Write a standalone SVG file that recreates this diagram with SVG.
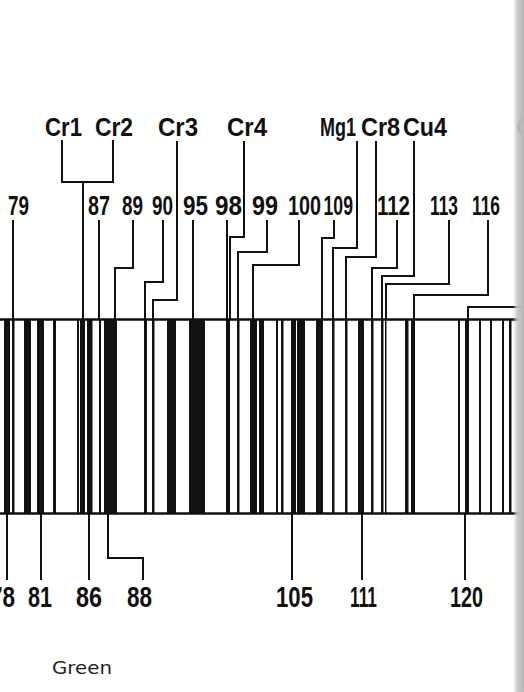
<svg xmlns="http://www.w3.org/2000/svg" width="524" height="692" viewBox="0 0 524 692">
<style>
.lbl{font-family:"Liberation Sans",Arial,sans-serif;font-weight:bold;fill:#111}
.top{font-size:26px}
.mid{font-size:27px}
.bot{font-size:29px}
.cap{font-family:"DejaVu Sans","Liberation Sans",sans-serif;font-size:17px;fill:#222}
.ld{fill:none;stroke:#111;stroke-width:2}
.bar{fill:#111}
.edge{stroke:#111;stroke-width:2.6}
</style>
<defs>
<linearGradient id="shade" x1="0" y1="0" x2="1" y2="0">
<stop offset="0" stop-color="#d0d0d0" stop-opacity="0"/>
<stop offset="0.35" stop-color="#c8c8c8" stop-opacity="0.9"/>
<stop offset="1" stop-color="#b4b4b4" stop-opacity="1"/>
</linearGradient>
</defs>
<rect x="0" y="0" width="524" height="692" fill="#ffffff"/>

<g id="band">
<line class="edge" x1="0" y1="319.5" x2="520" y2="319.5"/>
<line class="edge" x1="0" y1="513.5" x2="520" y2="513.5"/>
<g class="bar">
<rect x="4" y="319" width="6" height="195"/>
<rect x="12" y="319" width="2.5" height="195"/>
<rect x="24" y="319" width="7" height="195"/>
<rect x="37" y="319" width="7" height="195"/>
<rect x="53" y="319" width="3" height="195"/>
<rect x="77" y="319" width="2" height="195"/>
<rect x="80" y="319" width="5" height="195"/>
<rect x="87" y="319" width="5.5" height="195"/>
<rect x="99" y="319" width="2" height="195"/>
<rect x="104" y="319" width="13" height="195"/>
<rect x="144" y="319" width="3" height="195"/>
<rect x="152" y="319" width="2.5" height="195"/>
<rect x="167" y="319" width="9" height="195"/>
<rect x="189" y="319" width="16" height="195"/>
<rect x="226" y="319" width="4" height="195"/>
<rect x="237" y="319" width="2.5" height="195"/>
<rect x="250" y="319" width="7" height="195"/>
<rect x="259" y="319" width="5" height="195"/>
<rect x="276" y="319" width="2" height="195"/>
<rect x="281" y="319" width="2.5" height="195"/>
<rect x="291" y="319" width="5" height="195"/>
<rect x="297" y="319" width="8" height="195"/>
<rect x="316" y="319" width="7" height="195"/>
<rect x="332" y="319" width="2.5" height="195"/>
<rect x="345" y="319" width="2.5" height="195"/>
<rect x="358" y="319" width="6" height="195"/>
<rect x="371" y="319" width="2.5" height="195"/>
<rect x="381" y="319" width="2.5" height="195"/>
<rect x="385" y="319" width="1.5" height="195"/>
<rect x="405" y="319" width="3.5" height="195"/>
<rect x="411" y="319" width="4" height="195"/>
<rect x="458" y="319" width="2" height="195"/>
<rect x="465" y="319" width="4" height="195"/>
<rect x="479" y="319" width="2" height="195"/>
<rect x="490" y="319" width="2" height="195"/>
<rect x="502" y="319" width="2" height="195"/>
<rect x="509" y="319" width="2.5" height="195"/>
</g>
</g>

<g id="connectors">
<path class="ld" d="M62,140 V182 H113 V140"/>
<path class="ld" d="M83,182 V319" stroke-width="2.6"/>
<path class="ld" d="M13,220 V319"/>
<path class="ld" d="M99,220 V319"/>
<path class="ld" d="M133,220 V268 H115 V319"/>
<path class="ld" d="M163,220 V282 H145 V319"/>
<path class="ld" d="M177,141 V300 H153 V319"/>
<path class="ld" d="M193,220 V319"/>
<path class="ld" d="M227,220 V319" stroke-width="2.6"/>
<path class="ld" d="M244,141 V237 H230 V319"/>
<path class="ld" d="M267,220 V252 H238 V319"/>
<path class="ld" d="M299,220 V265 H253 V319"/>
<path class="ld" d="M334,220 V238 H322 V319"/>
<path class="ld" d="M357,141 V248 H333 V319"/>
<path class="ld" d="M376,141 V257 H346 V319"/>
<path class="ld" d="M397,220 V268 H372 V319"/>
<path class="ld" d="M414,141 V276 H382 V319"/>
<path class="ld" d="M449,220 V284 H386 V319"/>
<path class="ld" d="M488,220 V295 H414 V319"/>
<path class="ld" d="M524,307 H468 V319"/>
<path class="ld" d="M7,514 V580"/>
<path class="ld" d="M41,514 V580"/>
<path class="ld" d="M89,514 V580"/>
<path class="ld" d="M108,514 V558 H143 V580"/>
<path class="ld" d="M292,514 V580"/>
<path class="ld" d="M362,514 V580"/>
<path class="ld" d="M465,514 V580"/>
</g>

<g id="n-Cr1"><text class="lbl top" x="45" y="136" textLength="37" lengthAdjust="spacingAndGlyphs">Cr1</text></g>
<g id="n-Cr2"><text class="lbl top" x="95" y="136" textLength="38" lengthAdjust="spacingAndGlyphs">Cr2</text></g>
<g id="n-Cr3"><text class="lbl top" x="158" y="136" textLength="40" lengthAdjust="spacingAndGlyphs">Cr3</text></g>
<g id="n-Cr4"><text class="lbl top" x="227" y="136" textLength="40" lengthAdjust="spacingAndGlyphs">Cr4</text></g>
<g id="n-Mg1"><text class="lbl top" x="320" y="136" textLength="36" lengthAdjust="spacingAndGlyphs">Mg1</text></g>
<g id="n-Cr8"><text class="lbl top" x="361" y="136" textLength="39" lengthAdjust="spacingAndGlyphs">Cr8</text></g>
<g id="n-Cu4"><text class="lbl top" x="403" y="136" textLength="44" lengthAdjust="spacingAndGlyphs">Cu4</text></g>
<g id="n-C"><text class="lbl top" x="516" y="136">C</text></g>

<g id="n-79"><text class="lbl mid" x="8" y="215" textLength="21" lengthAdjust="spacingAndGlyphs">79</text></g>
<g id="n-87"><text class="lbl mid" x="88" y="215" textLength="22" lengthAdjust="spacingAndGlyphs">87</text></g>
<g id="n-89"><text class="lbl mid" x="122" y="215" textLength="21" lengthAdjust="spacingAndGlyphs">89</text></g>
<g id="n-90"><text class="lbl mid" x="152" y="215" textLength="21" lengthAdjust="spacingAndGlyphs">90</text></g>
<g id="n-95"><text class="lbl mid" x="183" y="215" textLength="25" lengthAdjust="spacingAndGlyphs">95</text></g>
<g id="n-98"><text class="lbl mid" x="215" y="215" textLength="27" lengthAdjust="spacingAndGlyphs">98</text></g>
<g id="n-99"><text class="lbl mid" x="252" y="215" textLength="26" lengthAdjust="spacingAndGlyphs">99</text></g>
<g id="n-100"><text class="lbl mid" x="288" y="215" textLength="33" lengthAdjust="spacingAndGlyphs">100</text></g>
<g id="n-109"><text class="lbl mid" x="323.5" y="215" textLength="29.5" lengthAdjust="spacingAndGlyphs">109</text></g>
<g id="n-112"><text class="lbl mid" x="377" y="215" textLength="33" lengthAdjust="spacingAndGlyphs">112</text></g>
<g id="n-113"><text class="lbl mid" x="430" y="215" textLength="28" lengthAdjust="spacingAndGlyphs">113</text></g>
<g id="n-116"><text class="lbl mid" x="472" y="215" textLength="28" lengthAdjust="spacingAndGlyphs">116</text></g>

<g id="n-78"><text class="lbl bot" x="-10" y="607" textLength="25" lengthAdjust="spacingAndGlyphs">78</text></g>
<g id="n-81"><text class="lbl bot" x="28" y="607" textLength="24" lengthAdjust="spacingAndGlyphs">81</text></g>
<g id="n-86"><text class="lbl bot" x="76" y="607" textLength="26" lengthAdjust="spacingAndGlyphs">86</text></g>
<g id="n-88"><text class="lbl bot" x="127" y="607" textLength="25" lengthAdjust="spacingAndGlyphs">88</text></g>
<g id="n-105"><text class="lbl bot" x="276" y="607" textLength="37" lengthAdjust="spacingAndGlyphs">105</text></g>
<g id="n-111"><text class="lbl bot" x="350" y="607" textLength="27" lengthAdjust="spacingAndGlyphs">111</text></g>
<g id="n-120"><text class="lbl bot" x="450" y="607" textLength="33" lengthAdjust="spacingAndGlyphs">120</text></g>

<g id="caption"><text class="cap" x="52" y="674" textLength="60" lengthAdjust="spacingAndGlyphs">Green</text></g>

<rect x="513" y="0" width="11" height="692" fill="url(#shade)"/>
</svg>
